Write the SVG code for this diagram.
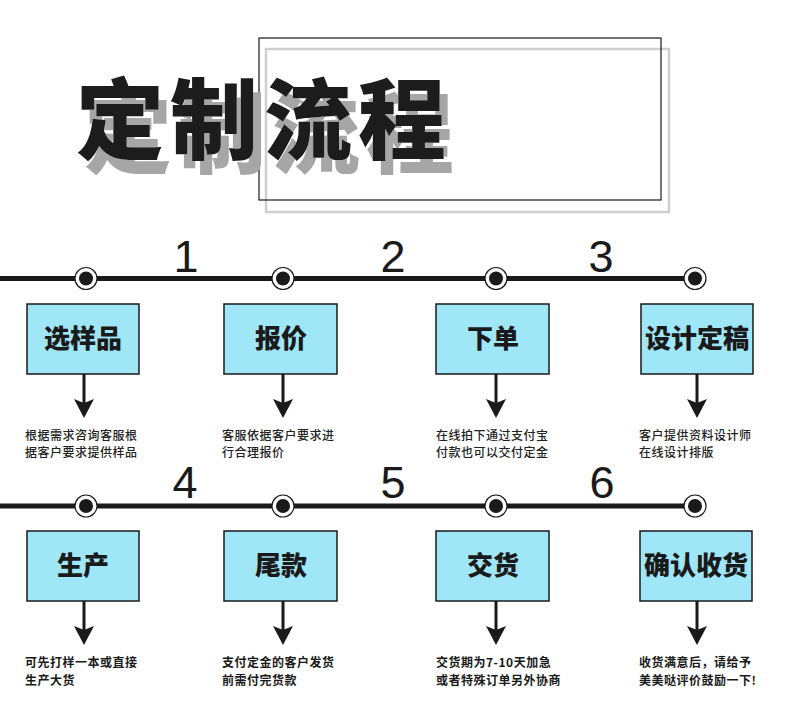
<svg xmlns="http://www.w3.org/2000/svg" width="790" height="712" viewBox="0 0 790 712">
<defs>
<style>
.title{font-family:"Noto Sans CJK SC","Noto Sans CJK JP",sans-serif;font-weight:900;font-size:88px;letter-spacing:6px}
.num{font-family:"Liberation Sans",Arial,sans-serif;font-size:45px;fill:#1a1a1a;text-anchor:middle}
.box{fill:#9fe6f7;stroke:#1a1a1a;stroke-width:1.5}
.lbl{font-family:"Noto Sans CJK SC",sans-serif;font-weight:900;font-size:26px;fill:#1a1a1a;text-anchor:middle}
.d1{font-family:"Noto Sans CJK SC",sans-serif;font-weight:500;font-size:12px;letter-spacing:0.5px;fill:#222}
.d2{font-family:"Noto Sans CJK SC",sans-serif;font-weight:700;font-size:12px;letter-spacing:0.5px;fill:#1a1a1a}
.tl{stroke:#1a1a1a;stroke-width:5}
.ring{fill:#fff;stroke:#1a1a1a;stroke-width:1.2}
.dot{fill:#1a1a1a}
.shaft{stroke:#1a1a1a;stroke-width:3}
.head{fill:#1a1a1a}
</style>
<filter id="shadow" x="-5%" y="-10%" width="115%" height="130%">
<feFlood flood-color="#a6a6a6" result="c"/>
<feComposite in="c" in2="SourceAlpha" operator="in" result="s"/>
<feOffset in="s" dx="8" dy="14" result="o"/>
<feMerge><feMergeNode in="o"/><feMergeNode in="SourceGraphic"/></feMerge>
</filter>
<g id="nodeMark">
<circle class="ring" r="11"/>
<circle class="dot" r="7"/>
</g>
<path id="ah" class="head" d="M-10,0 L0,4 L10,0 L0,19 Z"/>
</defs>

<g id="header">
<rect x="266" y="49" width="403" height="163" fill="none" stroke="#cfcfcf" stroke-width="2.5"/>
<rect x="259" y="38" width="402" height="162" fill="none" stroke="#1a1a1a" stroke-width="1.2"/>
<text class="title" x="76" y="152" fill="#1a1a1a" filter="url(#shadow)">定制流程</text>
</g>

<g id="connectors">
<line class="tl" x1="0" y1="278.5" x2="696" y2="278.5"/>
<line class="tl" x1="0" y1="506" x2="696" y2="506"/>
<line class="shaft" x1="84" y1="374" x2="84" y2="404"/>
<use href="#ah" x="84" y="399"/>
<line class="shaft" x1="283" y1="374" x2="283" y2="404"/>
<use href="#ah" x="283" y="399"/>
<line class="shaft" x1="496" y1="374" x2="496" y2="404"/>
<use href="#ah" x="496" y="399"/>
<line class="shaft" x1="697" y1="374" x2="697" y2="404"/>
<use href="#ah" x="697" y="399"/>
<line class="shaft" x1="84" y1="601" x2="84" y2="631"/>
<use href="#ah" x="84" y="626"/>
<line class="shaft" x1="283" y1="601" x2="283" y2="631"/>
<use href="#ah" x="283" y="626"/>
<line class="shaft" x1="496" y1="601" x2="496" y2="631"/>
<use href="#ah" x="496" y="626"/>
<line class="shaft" x1="697" y1="601" x2="697" y2="631"/>
<use href="#ah" x="697" y="626"/>
</g>

<g id="timeline-marks">
<use href="#nodeMark" x="86" y="278.5"/>
<use href="#nodeMark" x="283" y="278.5"/>
<use href="#nodeMark" x="496" y="278.5"/>
<use href="#nodeMark" x="695" y="278.5"/>
<use href="#nodeMark" x="86" y="506"/>
<use href="#nodeMark" x="283" y="506"/>
<use href="#nodeMark" x="496" y="506"/>
<use href="#nodeMark" x="695" y="506"/>
<text class="num" x="186" y="272">1</text>
<text class="num" x="393" y="272">2</text>
<text class="num" x="601" y="272">3</text>
<text class="num" x="185" y="498">4</text>
<text class="num" x="393" y="498">5</text>
<text class="num" x="602" y="498">6</text>
</g>

<g id="step1">
<rect class="box" x="27" y="304" width="112" height="70"/>
<text class="lbl" x="83" y="348">选样品</text>
<text class="d1"><tspan x="25" y="439.5">根据需求咨询客服根</tspan><tspan x="25" y="457">据客户要求提供样品</tspan></text>
</g>
<g id="step2">
<rect class="box" x="224" y="304" width="113" height="70"/>
<text class="lbl" x="281" y="348">报价</text>
<text class="d1"><tspan x="222" y="439.5">客服依据客户要求进</tspan><tspan x="222" y="457">行合理报价</tspan></text>
</g>
<g id="step3">
<rect class="box" x="436" y="304" width="113" height="70"/>
<text class="lbl" x="493" y="348">下单</text>
<text class="d1"><tspan x="436" y="439.5">在线拍下通过支付宝</tspan><tspan x="436" y="457">付款也可以交付定金</tspan></text>
</g>
<g id="step4">
<rect class="box" x="641" y="304" width="112" height="70"/>
<text class="lbl" x="697" y="348">设计定稿</text>
<text class="d1"><tspan x="639" y="439.5">客户提供资料设计师</tspan><tspan x="639" y="457">在线设计排版</tspan></text>
</g>
<g id="step5">
<rect class="box" x="27" y="531" width="112" height="70"/>
<text class="lbl" x="83" y="575">生产</text>
<text class="d2"><tspan x="25" y="667">可先打样一本或直接</tspan><tspan x="25" y="684.5">生产大货</tspan></text>
</g>
<g id="step6">
<rect class="box" x="224" y="531" width="113" height="70"/>
<text class="lbl" x="281" y="575">尾款</text>
<text class="d2"><tspan x="222" y="667">支付定金的客户发货</tspan><tspan x="222" y="684.5">前需付完货款</tspan></text>
</g>
<g id="step7">
<rect class="box" x="436" y="531" width="113" height="70"/>
<text class="lbl" x="493" y="575">交货</text>
<text class="d2"><tspan x="436" y="667">交货期为7-10天加急</tspan><tspan x="436" y="684.5">或者特殊订单另外协商</tspan></text>
</g>
<g id="step8">
<rect class="box" x="640" y="531" width="112" height="70"/>
<text class="lbl" x="696" y="575">确认收货</text>
<text class="d2"><tspan x="639" y="667">收货满意后，请给予</tspan><tspan x="639" y="684.5">美美哒评价鼓励一下!</tspan></text>
</g>
</svg>
